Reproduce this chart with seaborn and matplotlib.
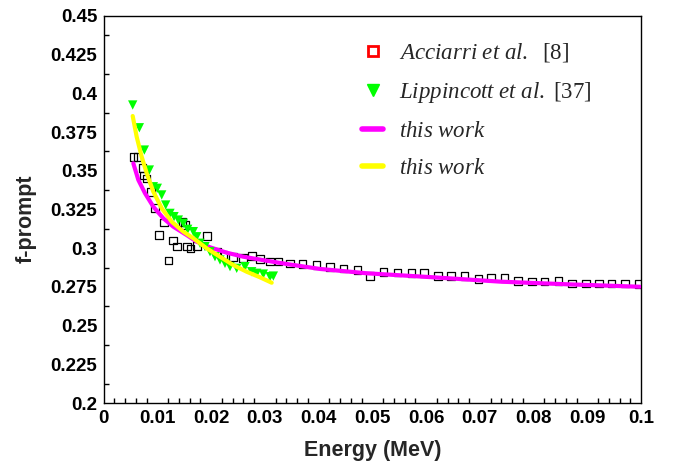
import numpy as np
import pandas as pd
import matplotlib
matplotlib.use('Agg')
import matplotlib.pyplot as plt
import seaborn as sns
from matplotlib.lines import Line2D
from matplotlib.ticker import MultipleLocator

# Acciarri et al. [8]
acc_energy = [0.00555, 0.00636, 0.00722, 0.00748, 0.00797, 0.00884, 0.00958, 0.01038,
              0.01126, 0.01212, 0.01293, 0.01367, 0.01473, 0.0152, 0.01548, 0.01622,
              0.01734, 0.01926, 0.0211, 0.0223, 0.0241, 0.0259, 0.02757, 0.02917,
              0.03092, 0.03252, 0.03464, 0.03699, 0.03959, 0.04214, 0.04462, 0.04722,
              0.04958, 0.05206, 0.05466, 0.05727, 0.05963, 0.06218, 0.06465, 0.06713,
              0.06973, 0.07209, 0.07457, 0.07706, 0.07966, 0.08201, 0.08461, 0.08711,
              0.08971, 0.09219, 0.09454, 0.09702, 0.0995]
acc_fprompt = [0.359, 0.359, 0.352, 0.347, 0.345, 0.3365, 0.326, 0.3085,
               0.3165, 0.292, 0.305, 0.301, 0.317, 0.315, 0.301, 0.2997,
               0.3014, 0.3077, 0.2977, 0.2956, 0.2945, 0.2935, 0.2951, 0.2930,
               0.2913, 0.2913, 0.2902, 0.2898, 0.2893, 0.2879, 0.2870, 0.2859,
               0.2822, 0.2848, 0.2842, 0.2840, 0.2840, 0.2822, 0.2822, 0.2822,
               0.2803, 0.2812, 0.2806, 0.2790, 0.2784, 0.2786, 0.2788, 0.2773,
               0.2773, 0.2773, 0.2773, 0.2773, 0.2767]

# Lippincott et al. [37]
lip_energy = [0.00543, 0.00667, 0.0076, 0.00853, 0.00927, 0.01001, 0.01083, 0.01157,
              0.01237, 0.01312, 0.01392, 0.01485, 0.01566, 0.01671, 0.01734, 0.01795,
              0.01888, 0.01981, 0.02074, 0.02167, 0.0226, 0.02353, 0.02478, 0.02633,
              0.02757, 0.0285, 0.02973, 0.03098, 0.0316]
lip_fprompt = [0.3925, 0.3778, 0.3634, 0.3505, 0.3397, 0.3387, 0.3344, 0.3279,
               0.3225, 0.3204, 0.3182, 0.3161, 0.3122, 0.3107, 0.3074, 0.3032,
               0.301, 0.2977, 0.2945, 0.2924, 0.2902, 0.2881, 0.287, 0.2881,
               0.2848, 0.2838, 0.2833, 0.2816, 0.282]

# this work (magenta)
fit1_energy = [0.00555, 0.00648, 0.00772, 0.00927, 0.01113, 0.01299, 0.01548, 0.01734,
               0.01981, 0.02292, 0.02601, 0.03036, 0.03408, 0.04028, 0.049, 0.0614,
               0.0738, 0.0862, 0.0998]
fit1_fprompt = [0.3548, 0.3441, 0.3355, 0.3268, 0.3193, 0.3139, 0.3085, 0.3042,
                0.3006, 0.2971, 0.2945, 0.2919, 0.2898, 0.2866, 0.2838, 0.2812,
                0.2784, 0.2767, 0.2751]

# this work (yellow)
fit2_energy = [0.00543, 0.00617, 0.0071, 0.00804, 0.00927, 0.01083, 0.01269, 0.01485,
               0.01671, 0.0192, 0.02167, 0.02415, 0.02664, 0.02912, 0.03129]
fit2_fprompt = [0.3854, 0.3720, 0.3591, 0.3484, 0.3365, 0.3258, 0.3171, 0.3107,
                0.3064, 0.2999, 0.2945, 0.2891, 0.2848, 0.2812, 0.2777]

sns.set_theme(style='white')
plt.rcParams['font.family'] = ['Liberation Sans', 'DejaVu Sans']
plt.rcParams['mathtext.fontset'] = 'custom'
plt.rcParams['mathtext.it'] = 'Liberation Serif:italic'
plt.rcParams['mathtext.rm'] = 'Liberation Serif'

fig = plt.figure(figsize=(6.73, 4.65), dpi=100)
ax = fig.add_axes([0.1538, 0.1333, 0.7987, 0.8323])

acc = pd.DataFrame({'energy': acc_energy, 'fprompt': acc_fprompt})
lip = pd.DataFrame({'energy': lip_energy, 'fprompt': lip_fprompt})
fit1 = pd.DataFrame({'energy': fit1_energy, 'fprompt': fit1_fprompt})
fit2 = pd.DataFrame({'energy': fit2_energy, 'fprompt': fit2_fprompt})

sns.scatterplot(data=acc, x='energy', y='fprompt', ax=ax, marker='s', s=30,
                facecolor='none', edgecolor='black', linewidth=0.9, zorder=2)
sns.lineplot(data=fit1, x='energy', y='fprompt', ax=ax, color='#ff00ff', lw=3,
             sort=False, estimator=None, zorder=3)
sns.scatterplot(data=lip, x='energy', y='fprompt', ax=ax, marker='v', s=45,
                color='#00ff00', edgecolor='none', zorder=4)
sns.lineplot(data=fit2, x='energy', y='fprompt', ax=ax, color='#ffff00', lw=3,
             sort=False, estimator=None, zorder=5)

ax.set_xlim(0, 0.1)
ax.set_ylim(0.2, 0.45)
ax.xaxis.set_major_locator(MultipleLocator(0.01))
ax.xaxis.set_minor_locator(MultipleLocator(0.002))
ax.yaxis.set_major_locator(MultipleLocator(0.025))
ax.yaxis.set_minor_locator(MultipleLocator(0.0125))
ax.xaxis.set_major_formatter(plt.FuncFormatter(lambda v, p: f'{v:.3f}'.rstrip('0').rstrip('.') if v else '0'))
ax.yaxis.set_major_formatter(plt.FuncFormatter(lambda v, p: f'{v:.3f}'.rstrip('0').rstrip('.')))
ax.tick_params(which='both', direction='in', top=False, right=False, colors='black',
               labelsize=13.5, width=1)
ax.tick_params(which='major', length=7.5)
ax.tick_params(which='minor', length=3.6, left=True, bottom=True)
ax.tick_params(axis='y', pad=4.5)
ax.tick_params(axis='x', pad=5)
for lab in ax.get_xticklabels() + ax.get_yticklabels():
    lab.set_fontweight('bold')
for sp in ax.spines.values():
    sp.set_color('black')
    sp.set_linewidth(1.0)

ax.set_xlabel('Energy (MeV)', fontsize=15.5, fontweight='bold')
ax.set_ylabel('f-prompt', fontsize=15.5, fontweight='bold')
ax.xaxis.set_label_coords(0.5, -0.095)
ax.yaxis.set_label_coords(-0.124, 0.475)

handles = [
    Line2D([], [], ls='none', marker='s', ms=7.5, mfc='white', mec='red', mew=2),
    Line2D([], [], ls='none', marker='v', ms=8.5, color='#00ff00'),
    Line2D([], [], color='#ff00ff', lw=4),
    Line2D([], [], color='#ffff00', lw=4),
]
labels = [r'$\mathit{Acciarri\ et\ al.}$  [8]', r'$\mathit{Lippincott\ et\ al.}$ [37]',
          r'$\mathit{this\ work}$', r'$\mathit{this\ work}$']
leg = ax.legend(handles, labels, loc='upper left', bbox_to_anchor=(0.4804, 0.935),
                frameon=False, prop={'family': 'Liberation Serif', 'size': 16.5},
                handlelength=0.94, handletextpad=0.7, labelspacing=0.69,
                borderpad=0, borderaxespad=0)

fig.savefig('out.png', dpi=100)
